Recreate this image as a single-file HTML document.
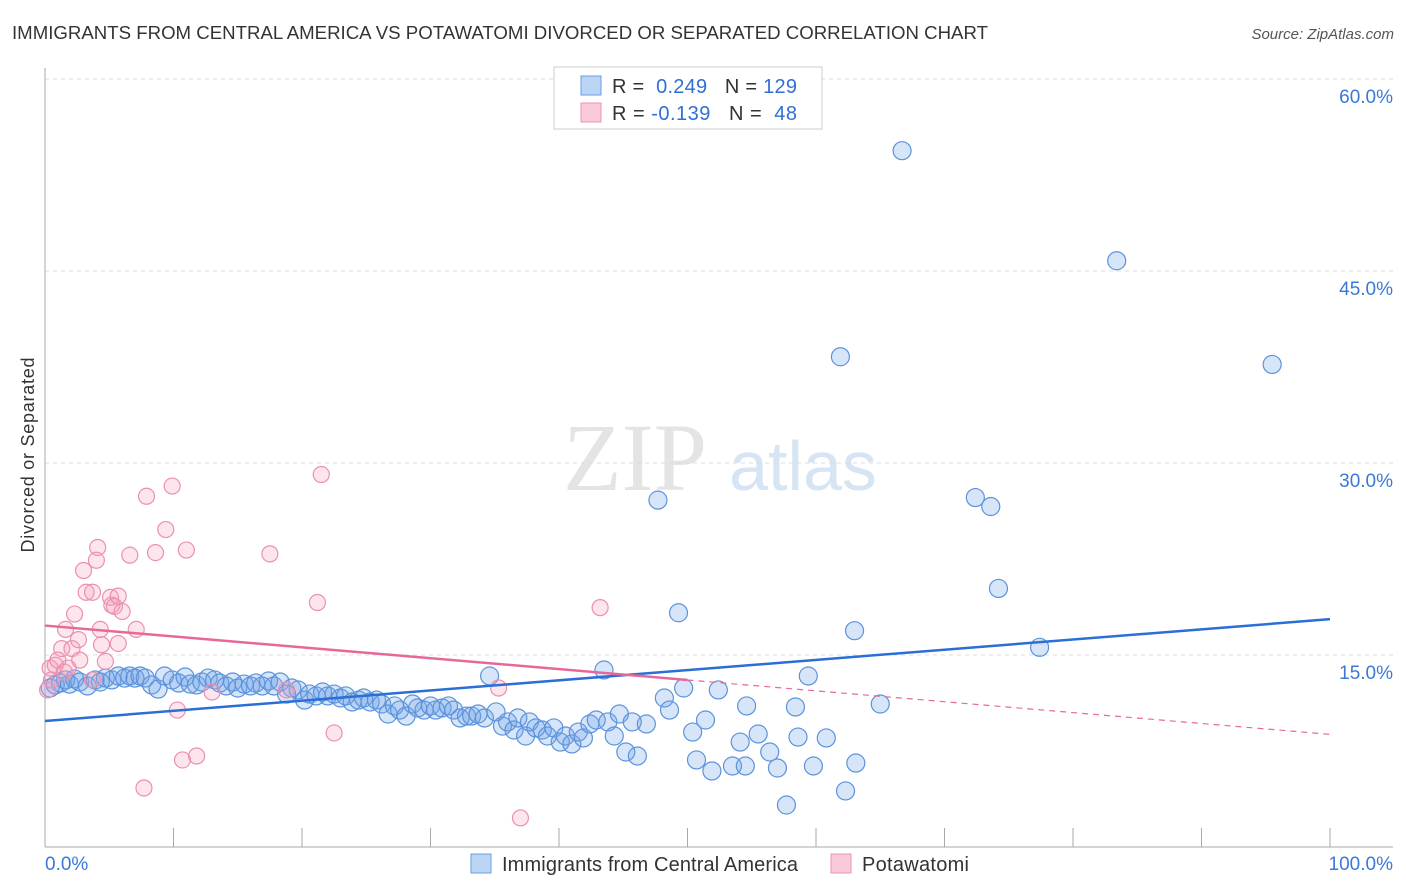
<!DOCTYPE html>
<html><head><meta charset="utf-8"><style>
body{margin:0;background:#fff;font-family:"Liberation Sans",sans-serif;}
svg{display:block}
</style></head><body>
<svg width="1406" height="892" id="chart">
<text x="12" y="39" font-size="18" fill="#333" textLength="976" lengthAdjust="spacingAndGlyphs">IMMIGRANTS FROM CENTRAL AMERICA VS POTAWATOMI DIVORCED OR SEPARATED CORRELATION CHART</text>
<text x="1394" y="39" font-size="15" fill="#555" font-style="italic" text-anchor="end">Source: ZipAtlas.com</text>
<text x="34" y="455" font-size="18" fill="#333" text-anchor="middle" textLength="195" transform="rotate(-90 34 455)">Divorced or Separated</text>
<g><text x="635" y="490" font-size="96" fill="#e4e4e4" font-family="Liberation Serif,serif" text-anchor="middle">ZIP</text><text x="803" y="490" font-size="70" fill="#d6e4f4" text-anchor="middle">atlas</text></g>
<g id="grid"></g><g id="pts"></g><g id="lines"></g>
<g>
<rect x="554" y="67" width="268" height="62" fill="#fff" stroke="#ccc"/>
<rect x="581" y="76" width="20" height="19" fill="#bcd5f5" stroke="#6a9ee0"/>
<rect x="581" y="103" width="20" height="19" fill="#fbcad8" stroke="#ec92b0"/>
<text x="612" y="93" font-size="20" fill="#333" textLength="185">R = <tspan fill="#2f6fd6">&#160;0.249</tspan>&#160;&#160;&#160;N = <tspan fill="#2f6fd6">129</tspan></text>
<text x="612" y="120" font-size="20" fill="#333" textLength="185">R = <tspan fill="#2f6fd6">-0.139</tspan>&#160;&#160;&#160;N = <tspan fill="#2f6fd6">&#160;48</tspan></text>
</g>
<g>
<rect x="471" y="854" width="20" height="19" fill="#bcd5f5" stroke="#6a9ee0"/>
<text x="502" y="871" font-size="20" fill="#333" textLength="296">Immigrants from Central America</text>
<rect x="831" y="854" width="20" height="19" fill="#fbcad8" stroke="#ec92b0"/>
<text x="862" y="871" font-size="20" fill="#333" textLength="107">Potawatomi</text>
</g>
</svg>
<script>
const yTicks=[15,30,45,60];
const yTickLabels=["15.0%","30.0%","45.0%","60.0%"];
const xTickLabels=["0.0%","100.0%"];
const blueX=[0.4,0.8,1.2,1.6,1.9,2.3,2.7,3.3,3.9,4.3,4.7,5.2,5.7,6.2,6.6,7.0,7.4,7.8,8.3,8.8,9.3,9.9,10.4,10.9,11.3,11.8,12.2,12.7,13.2,13.6,14.1,14.6,15.0,15.5,16.0,16.4,16.9,17.4,17.8,18.3,18.8,19.2,19.7,20.2,20.6,21.1,21.6,22.0,22.5,23.0,23.4,23.9,24.4,24.8,25.3,25.8,26.2,26.7,27.2,27.6,28.1,28.6,29.0,29.5,30.0,30.4,30.9,31.4,31.8,32.3,32.8,33.2,33.7,34.2,34.6,35.1,35.6,36.0,36.5,36.8,37.4,37.7,38.2,38.7,39.1,39.6,40.1,40.5,41.0,41.5,41.9,42.4,42.9,43.5,43.8,44.3,44.7,45.2,45.7,46.1,46.8,47.7,48.2,48.6,49.3,49.7,50.4,50.7,51.4,51.9,52.4,53.5,54.1,54.5,54.6,55.5,56.4,57.0,57.7,58.4,58.6,59.4,59.8,60.8,61.9,62.3,63.0,63.1,65.0,66.7,72.4,73.6,74.2,77.4,83.4,95.5];
const blueY=[12.42,12.66,12.81,13.05,12.73,13.13,12.89,12.58,13.05,12.89,13.20,13.05,13.36,13.20,13.36,13.20,13.36,13.20,12.66,12.34,13.36,13.05,12.81,13.28,12.73,12.66,12.89,13.20,13.05,12.81,12.58,12.89,12.42,12.73,12.58,12.81,12.58,12.97,12.58,12.89,11.95,12.42,12.27,11.48,11.95,11.80,12.11,11.80,11.95,11.64,11.80,11.33,11.48,11.64,11.33,11.48,11.17,10.39,11.02,10.70,10.23,11.17,10.86,10.70,11.02,10.70,10.86,11.02,10.70,10.08,10.23,10.23,10.39,10.08,13.36,10.55,9.45,9.77,9.14,10.08,8.67,9.77,9.30,9.14,8.67,9.30,8.20,8.67,8.05,8.98,8.52,9.61,9.92,13.83,9.77,8.67,10.39,7.42,9.77,7.11,9.61,27.1,11.64,10.70,18.3,12.42,8.98,6.80,9.92,5.94,12.27,6.33,8.20,6.33,11.02,8.83,7.42,6.17,3.28,10.94,8.59,13.36,6.33,8.52,38.3,4.38,16.9,6.56,11.17,54.4,27.3,26.6,20.2,15.6,45.8,37.7];
const pinkX=[0.2,0.4,0.5,0.8,1.0,1.3,1.5,1.6,1.8,2.1,2.3,2.6,2.7,3.0,3.2,3.7,4.0,4.1,4.3,4.4,4.7,5.1,5.2,5.4,5.7,5.7,6.0,6.6,7.1,7.9,8.6,9.4,9.9,10.3,10.7,11.0,11.8,13.0,17.5,18.8,21.2,21.5,22.5,35.3,37.0,43.2,7.7,3.7];
const pinkY=[12.27,13.98,13.05,14.2,14.6,15.5,13.67,17.0,13.98,15.5,18.2,16.2,14.6,21.6,19.9,19.9,22.4,23.4,17.0,15.8,14.5,19.5,18.9,18.8,19.6,15.9,18.4,22.8,17.0,27.4,23.0,24.8,28.2,10.70,6.80,23.2,7.11,12.11,22.9,12.27,19.1,29.1,8.91,12.42,2.27,18.7,4.61,13.05];
const blueTrend=[9.84,17.8];
const pinkTrend=[17.3,8.8];
const pinkSolidEnd=50;

const X0=45,X1=1330,Y0=847,PY=12.8;
const sx=v=>X0+(X1-X0)*v/100, sy=v=>Y0-v*PY;
const NS="http://www.w3.org/2000/svg";
function mk(tag,attrs,parent){const e=document.createElementNS(NS,tag);for(const k in attrs)e.setAttribute(k,attrs[k]);parent.appendChild(e);return e;}
const grid=document.getElementById('grid'),pts=document.getElementById('pts'),lines=document.getElementById('lines');
yTicks.forEach((t,i)=>{
 const l=mk('line',{x1:45,x2:1393,y1:sy(t),y2:sy(t),stroke:'#ddd','stroke-dasharray':'4 4'},grid);
 
 
 const tx=mk('text',{x:1393,y:sy(t)+24,'font-size':19,fill:'#3b78d8','text-anchor':'end'},grid);
 tx.textContent=yTickLabels[i];
 
 
});
const ya=mk('line',{x1:45,x2:45,y1:68,y2:847,stroke:'#aaa'},grid);


const xa=mk('line',{x1:45,x2:1393,y1:847,y2:847,stroke:'#aaa'},grid);


for(let i=0;i<=10;i++){
 const t=mk('line',{x1:sx(i*10),x2:sx(i*10),y1:828,y2:847,stroke:'#aaa'},grid);
 
 
}
[[0,'start',45],[1,'end',1393]].forEach(([i,a,x])=>{
 const t=mk('text',{x:x,y:870,'font-size':19,fill:'#3b78d8','text-anchor':a},grid);
 t.textContent=xTickLabels[i];
 
 
});
blueX.forEach((v,i)=>{
 const c=mk('circle',{cx:sx(v),cy:sy(blueY[i]),r:9,fill:'rgba(110,160,230,0.28)',stroke:'#5b93dc','stroke-width':1.2},pts);
 
 
});
pinkX.forEach((v,i)=>{
 const c=mk('circle',{cx:sx(v),cy:sy(pinkY[i]),r:8,fill:'rgba(245,160,190,0.28)',stroke:'#eb90ae','stroke-width':1.2},pts);
 
 
});
const bl=mk('line',{x1:sx(0),y1:sy(blueTrend[0]),x2:sx(100),y2:sy(blueTrend[1]),stroke:'#2a6fd6','stroke-width':2.5},lines);


const pm=pinkTrend[0]+(pinkTrend[1]-pinkTrend[0])*pinkSolidEnd/100;
const pl=mk('line',{x1:sx(0),y1:sy(pinkTrend[0]),x2:sx(pinkSolidEnd),y2:sy(pm),stroke:'#e8679a','stroke-width':2.5},lines);


const pd=mk('line',{x1:sx(pinkSolidEnd),y1:sy(pm),x2:sx(100),y2:sy(pinkTrend[1]),stroke:'#e8679a','stroke-width':1.2,'stroke-dasharray':'6 5'},lines);


</script>
</body></html>
